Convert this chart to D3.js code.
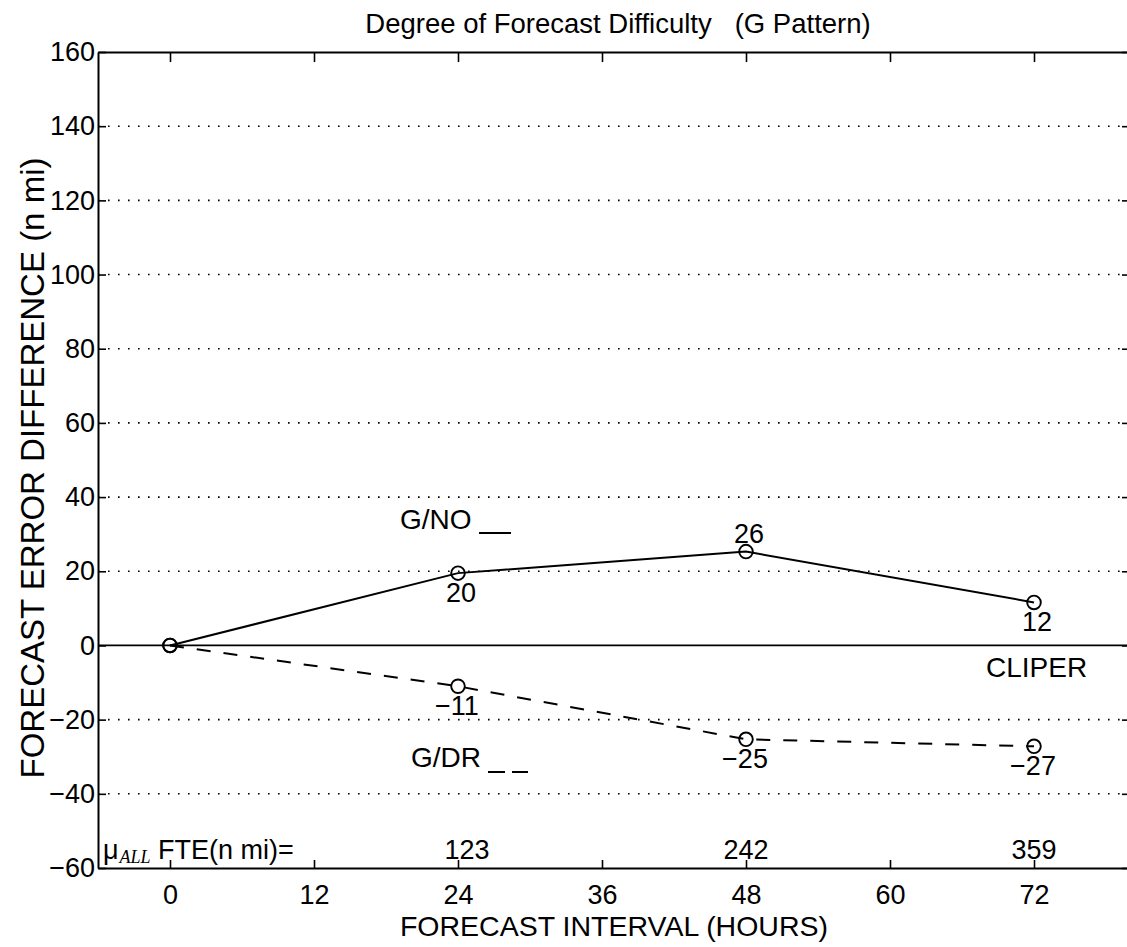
<!DOCTYPE html>
<html>
<head>
<meta charset="utf-8">
<script src="https://cdn.jsdelivr.net/npm/d3@7"></script>
<style>
  html, body { margin: 0; padding: 0; background: #fff; }
  svg { display: block; font-family: "Liberation Sans", Arial, Helvetica, sans-serif; }
</style>
</head>
<body>
<svg id="chart" width="1127" height="947"></svg>
<script>
// ---- data ----
const hours = [0, 24, 48, 72];
const gnoValues = [0, 19.5, 25.3, 11.6];
const gdrValues = [0, -11, -25.3, -27.2];
const labelHours = [24, 48, 72];
const gnoLabels = ["20", "26", "12"];
const gdrLabels = ["\u221211", "\u221225", "\u221227"];
const gnoLabelSide = ["below", "above", "below"];
const fteValues = ["123", "242", "359"];
const xTicks = [0, 12, 24, 36, 48, 60, 72];
const yTicks = [-60, -40, -20, 0, 20, 40, 60, 80, 100, 120, 140, 160];
const gridTicks = [-40, -20, 20, 40, 60, 80, 100, 120, 140];
const xDomain = [-6, 80];
const yDomain = [-60, 160];

// ---- layout ----
const svg = d3.select("#chart");
const L = 98, R = 1130, T = 52, B = 868;
const x = d3.scaleLinear().domain(xDomain).range([L, R]);
const y = d3.scaleLinear().domain(yDomain).range([B, T]);
const fmt = d => d < 0 ? "\u2212" + Math.abs(d) : String(d);

// grid (dotted)
svg.append("g").selectAll("line").data(gridTicks).join("line")
  .attr("x1", L).attr("x2", R)
  .attr("y1", d => y(d)).attr("y2", d => y(d))
  .attr("stroke", "#000").attr("stroke-width", 1.6)
  .attr("stroke-dasharray", "1.6,8.4");

// CLIPER zero line
svg.append("line").attr("x1", L).attr("x2", R)
  .attr("y1", y(0)).attr("y2", y(0))
  .attr("stroke", "#000").attr("stroke-width", 1.8);

// axes
const axB = svg.append("g").attr("transform", `translate(0,${B})`)
  .call(d3.axisBottom(x).tickValues(xTicks).tickSizeInner(-8).tickSizeOuter(0).tickPadding(17).tickFormat(fmt));
const axT = svg.append("g").attr("transform", `translate(0,${T})`)
  .call(d3.axisTop(x).tickValues(xTicks).tickSizeInner(-10).tickSizeOuter(0).tickFormat(""));
const axL = svg.append("g").attr("transform", `translate(${L},0)`)
  .call(d3.axisLeft(y).tickValues(yTicks).tickSizeInner(-8).tickSizeOuter(0).tickPadding(3).tickFormat(fmt));
const axR = svg.append("g").attr("transform", `translate(${R},0)`)
  .call(d3.axisRight(y).tickValues(yTicks).tickSizeInner(-8).tickSizeOuter(0).tickFormat(""));
[axB, axT, axL, axR].forEach(g => {
  g.selectAll("path.domain").attr("stroke", "#000").attr("stroke-width", 2);
  g.selectAll(".tick line").attr("stroke", "#000").attr("stroke-width", 1.6);
  g.selectAll(".tick text").attr("fill", "#000")
    .style("font-size", "27px").style("font-family", '"Liberation Sans", Arial, sans-serif');
});
axB.selectAll(".tick text").attr("dy", "0.71em");

// lines
const line = d3.line().x((d, i) => x(hours[i])).y(d => y(d));
svg.append("path").datum(gnoValues).attr("d", line)
  .attr("fill", "none").attr("stroke", "#000").attr("stroke-width", 2);
svg.append("path").datum(gdrValues).attr("d", line)
  .attr("fill", "none").attr("stroke", "#000").attr("stroke-width", 2)
  .attr("stroke-dasharray", "14,13");

// markers
[gnoValues, gdrValues].forEach(vals => {
  svg.append("g").selectAll("circle").data(vals).join("circle")
    .attr("cx", (d, i) => x(hours[i])).attr("cy", d => y(d)).attr("r", 6.8)
    .attr("fill", "none").attr("stroke", "#000").attr("stroke-width", 1.9);
});

// value labels
const txt = (sx, sy, s, size, anchor) => svg.append("text")
  .attr("x", sx).attr("y", sy).attr("text-anchor", anchor || "middle")
  .style("font-size", (size || 27) + "px").attr("fill", "#000").text(s);

labelHours.forEach((h, i) => {
  const k = hours.indexOf(h);
  const yy = y(gnoValues[k]);
  txt(x(h) + 3, gnoLabelSide[i] === "above" ? yy - 9 : yy + 29, gnoLabels[i], 27);
  txt(x(h) - 1, y(gdrValues[k]) + 29, gdrLabels[i], 27);
  txt(x(h) + (i === 0 ? 9 : 0), B - 9, fteValues[i], 27);
});

// annotations
txt(400, 529, "G/NO", 28, "start");
svg.append("line").attr("x1", 479).attr("x2", 511).attr("y1", 533).attr("y2", 533)
  .attr("stroke", "#000").attr("stroke-width", 2);
txt(411, 767, "G/DR", 28, "start");
svg.append("line").attr("x1", 488).attr("x2", 528).attr("y1", 772).attr("y2", 772)
  .attr("stroke", "#000").attr("stroke-width", 2).attr("stroke-dasharray", "17,7");
txt(986, 677, "CLIPER", 28, "start");

// mu_ALL FTE label
const mu = svg.append("text").attr("x", 103).attr("y", B - 9)
  .style("font-size", "27px").attr("fill", "#000");
mu.append("tspan").text("\u03bc");
mu.append("tspan").attr("dy", 4).attr("dx", 1)
  .style("font-family", '"Liberation Serif", "Times New Roman", serif')
  .style("font-style", "italic").style("font-size", "18px").text("ALL");
mu.append("tspan").attr("dy", -4).text(" FTE(n mi)=");

// title & axis labels
txt((L + R) / 2 + 4, 33, "Degree of Forecast Difficulty \u00a0 (G Pattern)", 27.5);
txt(614, 936, "FORECAST INTERVAL (HOURS)", 28.5);
svg.append("text").attr("transform", "translate(44,468) rotate(-90)")
  .attr("text-anchor", "middle").style("font-size", "33px").attr("fill", "#000")
  .text("FORECAST ERROR DIFFERENCE (n mi)");
</script>
</body>
</html>
